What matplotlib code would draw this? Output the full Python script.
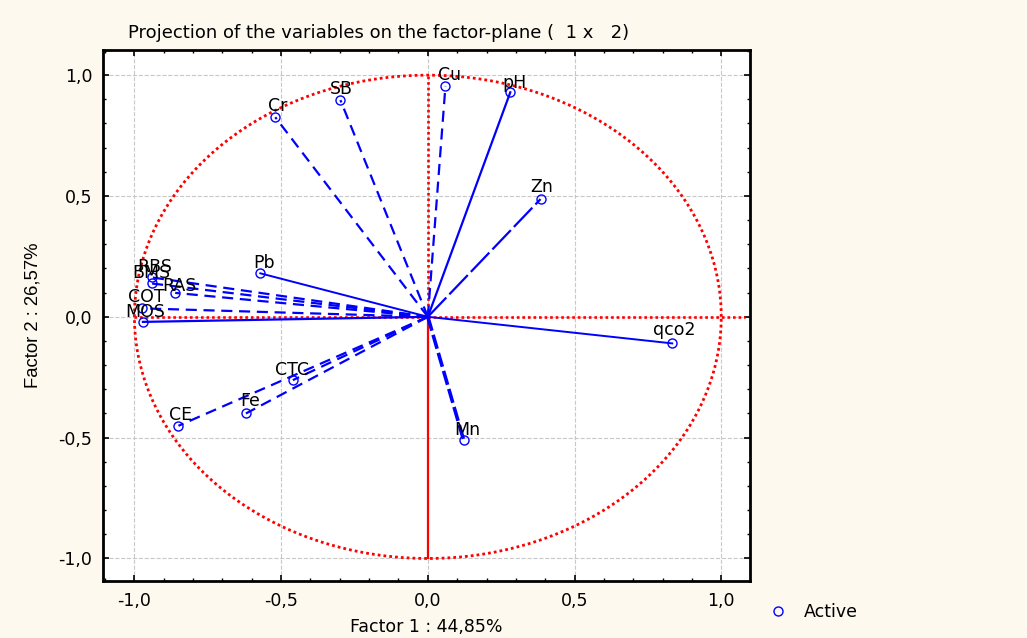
import numpy as np
import matplotlib
matplotlib.use("Agg")
import matplotlib.pyplot as plt
from matplotlib.lines import Line2D
from matplotlib.ticker import MultipleLocator, FuncFormatter

# ------------------------- Datos -------------------------
variables = ["Cu", "pH", "SB", "Cr", "Zn", "Pb", "RBS", "BMS", "RAS", "COT",
             "MOS", "CTC", "Fe", "CE", "Mn", "qco2"]
factor1 = [0.060, 0.281, -0.298, -0.520, 0.384, -0.571, -0.941, -0.941, -0.861,
           -0.974, -0.971, -0.460, -0.620, -0.850, 0.122, 0.833]
factor2 = [0.955, 0.929, 0.897, 0.826, 0.487, 0.180, 0.163, 0.138, 0.099,
           0.035, -0.021, -0.262, -0.400, -0.451, -0.510, -0.110]

pct_f1 = "44,85"
pct_f2 = "26,57"

# estilo de cada vector (mismo orden que variables)
DASH = (0, (5, 3))
line_styles = [DASH, "-", DASH, DASH, (0, (12, 2)), "-", DASH, DASH, DASH, DASH,
               "-", DASH, DASH, DASH, (0, (4, 1.2)), "-"]
line_widths = [1.6, 1.6, 1.6, 1.6, 1.6, 1.4, 1.6, 1.6, 1.6, 1.6,
               1.6, 1.6, 1.6, 1.6, 2.6, 1.4]
# desplazamiento de etiquetas en pixeles
label_offsets = [(-7, 6), (-8, 4), (-11, 6), (-7, 6), (-10, 7), (-7, 5), (-14, 5),
                 (-19, 5), (-13, 2), (-14, 6), (-18, 5), (-18, 5), (-6, 7),
                 (-9, 6), (-9, 5), (-19, 8)]

BG = "#fdf9ef"
BLUE = "#0000ff"
RED = "#ff0000"
FS = 12.5

plt.rcParams["font.family"] = ["DejaVu Sans"]

fig = plt.figure(figsize=(10.27, 6.38), dpi=100, facecolor=BG)
ax = fig.add_axes([0.1006, 0.0898, 0.6297, 0.8318])
ax.set_facecolor("white")

# círculo unitario y ejes rojos
t = np.linspace(0, 2 * np.pi, 400)
ax.plot(np.cos(t), np.sin(t), color=RED, lw=2.0, ls=(0, (1, 1.1)), zorder=2)
ax.plot([-1.0, 1.08], [0, 0], color=RED, lw=1.9, ls=(0, (1, 1.1)), zorder=2)
ax.plot([0, 0], [0, 1.0], color=RED, lw=1.9, ls=(0, (1, 1.1)), zorder=2)
ax.plot([0, 0], [-1.0, 0], color=RED, lw=1.6, ls="-", zorder=2)

# vectores
for name, x, y, ls, lw, off in zip(variables, factor1, factor2, line_styles,
                                   line_widths, label_offsets):
    ax.plot([0, x], [0, y], color=BLUE, lw=lw, ls=ls, zorder=3)
    ax.annotate(name, (x, y), xytext=off, textcoords="offset pixels",
                ha="left", va="baseline", fontsize=FS, color="black", zorder=5)

ax.plot(factor1, factor2, ls="none", marker="o", ms=6.5, mfc="none",
        mec=BLUE, mew=1.0, zorder=4)

ax.set_xlim(-1.106, 1.098)
ax.set_ylim(-1.092, 1.104)

comma = FuncFormatter(lambda v, p: f"{v:.1f}".replace(".", ",").replace("-0,0", "0,0"))
for axis in (ax.xaxis, ax.yaxis):
    axis.set_major_locator(MultipleLocator(0.5))
    axis.set_minor_locator(MultipleLocator(0.1))
    axis.set_major_formatter(comma)

ax.tick_params(which="both", direction="in", top=True, right=True,
               labelsize=FS, colors="black")
ax.tick_params(which="major", length=4, width=1.2, pad=8)
ax.tick_params(which="minor", length=2.5, width=1.0)
ax.grid(True, which="major", color="#c8c8c8", ls="--", lw=0.8, zorder=0)
for s in ax.spines.values():
    s.set_linewidth(2.0)
    s.set_color("black")

ax.set_xlabel(f"Factor 1 : {pct_f1}%", fontsize=FS, labelpad=6)
ax.set_ylabel(f"Factor 2 : {pct_f2}%", fontsize=13.3, labelpad=12,
              family=["Liberation Sans Narrow", "Liberation Sans"])

fig.text(0.125, 0.948, "Projection of the variables on the factor-plane (  1 x   2)",
         fontsize=13, ha="left", va="center")

handle = Line2D([], [], ls="none", marker="o", ms=6.5, mfc="none", mec=BLUE, mew=1.0)
fig.legend([handle], ["Active"], loc="center left", bbox_to_anchor=(0.725, 0.04),
           frameon=False, fontsize=FS, handletextpad=0.5)

fig.savefig("out.png", dpi=100, facecolor=BG)
